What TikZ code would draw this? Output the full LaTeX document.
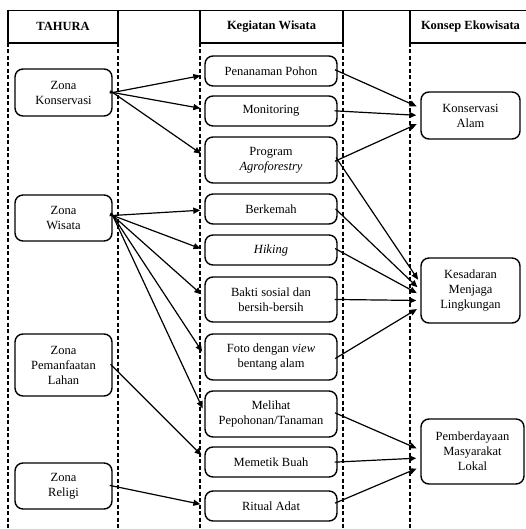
\documentclass[tikz,border=0pt]{standalone}
\usepackage{fontspec}
\setmainfont{Liberation Serif}
\newfontfamily\hurufserif{Liberation Serif}
\usetikzlibrary{arrows.meta}

\begin{document}
\begin{tikzpicture}[x=1pt, y=-1pt,
    kotak/.style={draw, line width=1.4pt, rounded corners=8pt, align=center,
        inner sep=0pt, font=\hurufserif\fontsize{12.5}{15}\selectfont},
    zona/.style={kotak, minimum width=97pt},
    kegiatan/.style={kotak, minimum width=132pt},
    konsep/.style={kotak, minimum width=99pt},
    judul/.style={line width=1.2pt, font=\hurufserif\fontsize{12.5}{15}\selectfont\bfseries},
    garis/.style={line width=1.2pt, dash pattern=on 4pt off 2.5pt},
    panah/.style={line width=1.2pt, -{Triangle[length=7pt,width=6pt]},
        shorten <=-3pt, shorten >=4pt}]
    \useasboundingbox (0,0) rectangle (526,529);

    % 1. 表头
    \draw[line width=1.2pt] (8,10.5) -- (526,10.5);
    \node[judul, draw, minimum width=110pt, minimum height=32.5pt] (tahura) at (63,26.75) {TAHURA};
    \node[judul, draw, minimum width=143pt, minimum height=32.5pt] (kegiatanwisata) at (271.5,26.75) {Kegiatan Wisata};
    \node[judul] (konsepeko) at (470.5,26) {Konsep Ekowisata};
    \draw[line width=1.2pt] (526,43) -- (410,43) -- (410,10.5);

    % 2. 虚线分栏
    \foreach \x in {8,118,200,343,410}
        \draw[garis] (\x,43) -- (\x,529);

    % 3. 左列:区域
    \node[zona, minimum height=47pt] (zk) at (63.5,92.5) {Zona\\Konservasi};
    \node[zona, minimum height=46pt] (zw) at (63.5,218) {Zona\\Wisata};
    \node[zona, minimum height=62pt] (zp) at (63.5,365) {Zona\\Pemanfaatan\\Lahan};
    \node[zona, minimum height=46pt] (zr) at (63.5,486) {Zona\\Religi};

    % 4. 中列:活动
    \node[kegiatan, minimum height=30pt] (pp) at (271,71) {Penanaman Pohon};
    \node[kegiatan, minimum height=30pt] (mo) at (271,111) {Monitoring};
    \node[kegiatan, minimum height=46pt] (pa) at (271,160) {Program\\\textit{Agroforestry}};
    \node[kegiatan, minimum height=30pt] (bk) at (271,209) {Berkemah};
    \node[kegiatan, minimum height=30pt] (hk) at (271,250) {\textit{Hiking}};
    \node[kegiatan, minimum height=45pt] (bs) at (271,299.5) {Bakti sosial dan\\bersih-bersih};
    \node[kegiatan, minimum height=46pt] (fv) at (271,357) {Foto dengan \textit{view}\\bentang alam};
    \node[kegiatan, minimum height=46pt] (mp) at (271,414) {Melihat\\Pepohonan/Tanaman};
    \node[kegiatan, minimum height=30pt] (mb) at (271,462) {Memetik Buah};
    \node[kegiatan, minimum height=30pt] (ra) at (271,506) {Ritual Adat};

    % 5. 右列:生态旅游概念
    \node[konsep, minimum height=47pt] (ka) at (470.5,115.5) {Konservasi\\Alam};
    \node[konsep, minimum height=65pt] (kml) at (470.5,290.5) {Kesadaran\\Menjaga\\Lingkungan};
    \node[konsep, minimum width=103pt, minimum height=65pt] (pml) at (472.5,451.5) {Pemberdayaan\\Masyarakat\\Lokal};

    % 6. 区域 -> 活动
    \draw[panah] (zk.east) -- ([yshift=-4pt]pp.west);
    \draw[panah] (zk.east) -- ([yshift=2pt]mo.west);
    \draw[panah] (zk.east) -- ([yshift=4pt]pa.west);
    \draw[panah] ([yshift=2.5pt]zw.east) -- ([yshift=-1pt]bk.west);
    \draw[panah] ([yshift=2.5pt]zw.east) -- (hk.west);
    \draw[panah] ([yshift=2.5pt]zw.east) -- ([yshift=2.5pt]bs.west);
    \draw[panah] ([yshift=2.5pt]zw.east) -- ([yshift=2pt]fv.west);
    \draw[panah] ([yshift=2.5pt]zw.east) -- ([yshift=2pt]mp.west);
    \draw[panah] ([yshift=-1.5pt]zp.east) -- ([yshift=4pt]mb.west);
    \draw[panah] (zr.east) -- ([yshift=1pt]ra.west);

    % 7. 活动 -> 概念
    \draw[panah] (pp.east) -- ([yshift=7.5pt]ka.west);
    \draw[panah] (mo.east) -- (ka.west);
    \draw[panah] (pa.east) -- ([yshift=-7pt]ka.west);
    \draw[panah] (pa.east) -- ([yshift=7.5pt]kml.west);
    \draw[panah] ([yshift=-2pt]bk.east) -- ([yshift=0.5pt]kml.west);
    \draw[panah] (hk.east) -- ([yshift=-4.5pt]kml.west);
    \draw[panah] (bs.east) -- ([yshift=-10pt]kml.west);
    \draw[panah] (fv.east) -- ([yshift=-16.5pt]kml.west);
    \draw[panah] (mp.east) -- ([yshift=1.5pt]pml.west);
    \draw[panah] (mb.east) -- ([yshift=-6.5pt]pml.west);
    \draw[panah] ([yshift=4pt]ra.east) -- ([yshift=-15.5pt]pml.west);
\end{tikzpicture}
\end{document}
